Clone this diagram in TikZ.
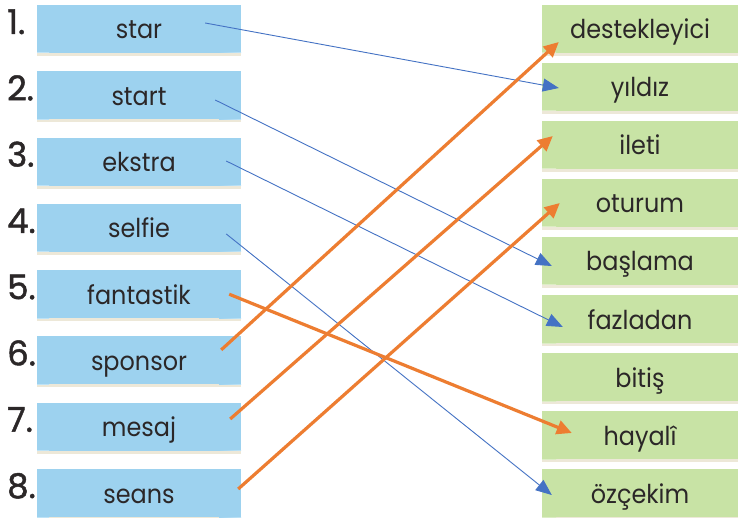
\documentclass[tikz,border=0pt]{standalone}
\usepackage{fontspec}
\setmainfont{Poppins}
\newfontfamily\boxfont[FakeStretch=0.92]{Poppins}
\newfontfamily\numfont[FakeBold=1.4]{Poppins}
\usetikzlibrary{arrows.meta,calc}
\definecolor{lblue}{HTML}{9DD2EF}
\definecolor{lblueedge}{HTML}{BFE3F6}
\definecolor{lgreen}{HTML}{C8E3A5}
\definecolor{lgreenedge}{HTML}{DDEDC6}
\definecolor{txt}{HTML}{2B2728}
\definecolor{arrblue}{HTML}{4472C4}
\definecolor{arrorange}{HTML}{ED7D31}
\definecolor{shadowc}{HTML}{E6DFC8}
\tikzset{
  x=1pt, y=-1pt,
  wordbox/.style={minimum height=48pt, inner sep=0pt, text=txt,
    text height=25pt, text depth=5pt,
    font=\boxfont\fontsize{26}{26}\selectfont},
  leftbox/.style={wordbox, minimum width=204pt, fill=lblue,
    path picture={
      \shade[left color=lblueedge, right color=lblue]
        (path picture bounding box.south west) rectangle ++(12,48);
      \shade[left color=lblue, right color=lblueedge]
        ($(path picture bounding box.south east)+(-22,0)$) rectangle ++(22,48);
    }},
  rightbox/.style={wordbox, minimum width=196pt, fill=lgreen,
    path picture={
      \shade[left color=lgreenedge, right color=lgreen]
        (path picture bounding box.south west) rectangle ++(14,48);
    }},
  numlabel/.style={anchor=base west, inner sep=0pt, text=txt,
    font=\numfont\fontsize{34}{34}\selectfont},
  thinarrow/.style={draw=arrblue, line width=0.9pt,
    -{Triangle[length=16pt,width=13pt]}},
  thickarrow/.style={draw=arrorange, line width=3.2pt,
    -{Triangle[length=15pt,width=14pt]}},
}
\newcommand{\lrow}[3]{%
  \fill[shadowc,opacity=0.7] (37,{#2+24}) rectangle (241,{#2+27});
  \node[leftbox] (l#1) at (139,#2) {#3};
  \node[numlabel] (n#1) at (7,{#2+5}) {#1.};
}
\newcommand{\rrow}[3]{%
  \fill[shadowc,opacity=0.7] (542,{#2+24}) rectangle (738,{#2+27});
  \node[rightbox] (r#1) at (640,#2) {#3};
}
\begin{document}
\begin{tikzpicture}
\useasboundingbox (0,0) rectangle (738,518);
\fill[white] (0,0) rectangle (738,518);
% left column
\lrow{1}{29}{star}
\lrow{2}{95.3}{start}
\lrow{3}{161.6}{ekstra}
\lrow{4}{227.9}{selfie}
\lrow{5}{294.2}{fantastik}
\lrow{6}{360.4}{sponsor}
\lrow{7}{426.7}{mesaj}
\lrow{8}{493}{seans}
% right column
\rrow{1}{29}{destekleyici}
\rrow{2}{87}{yıldız}
\rrow{3}{145}{ileti}
\rrow{4}{203}{oturum}
\rrow{5}{261}{başlama}
\rrow{6}{319}{fazladan}
\rrow{7}{377}{bitiş}
\rrow{8}{435}{hayalî}
\rrow{9}{493}{özçekim}
% start points
\coordinate (s1) at ($(l1.east)+(-36,-6)$);
\coordinate (s2) at ($(l2.east)+(-26,4.7)$);
\coordinate (s3) at ($(l3.east)+(-15,-0.6)$);
\coordinate (s4) at ($(l4.east)+(-15,6)$);
\coordinate (s5) at ($(l5.east)+(-12,0)$);
\coordinate (s6) at ($(l6.east)+(-20,-10.5)$);
\coordinate (s7) at ($(l7.east)+(-11,-7.7)$);
\coordinate (s8) at ($(l8.east)+(-3,-4)$);
% end points
\coordinate (e2) at ($(r2.west)+(17,1)$);
\coordinate (e5) at ($(r5.west)+(10,5)$);
\coordinate (e6) at ($(r6.west)+(21,8)$);
\coordinate (e9) at ($(r9.west)+(10,2)$);
\coordinate (e8) at ($(r8.west)+(30,-2)$);
\coordinate (e1) at ($(r1.west)+(17,13)$);
\coordinate (e3) at ($(r3.west)+(11,-9)$);
\coordinate (e4) at ($(r4.west)+(18,0)$);
% connectors
\draw[thinarrow] (s1) -- (e2);
\draw[thinarrow] (s2) -- (e5);
\draw[thinarrow] (s3) -- (e6);
\draw[thinarrow] (s4) -- (e9);
\draw[thickarrow] (s5) -- (e8);
\draw[thickarrow] (s6) -- (e1);
\draw[thickarrow] (s7) -- (e3);
\draw[thickarrow] (s8) -- (e4);
\end{tikzpicture}
\end{document}
